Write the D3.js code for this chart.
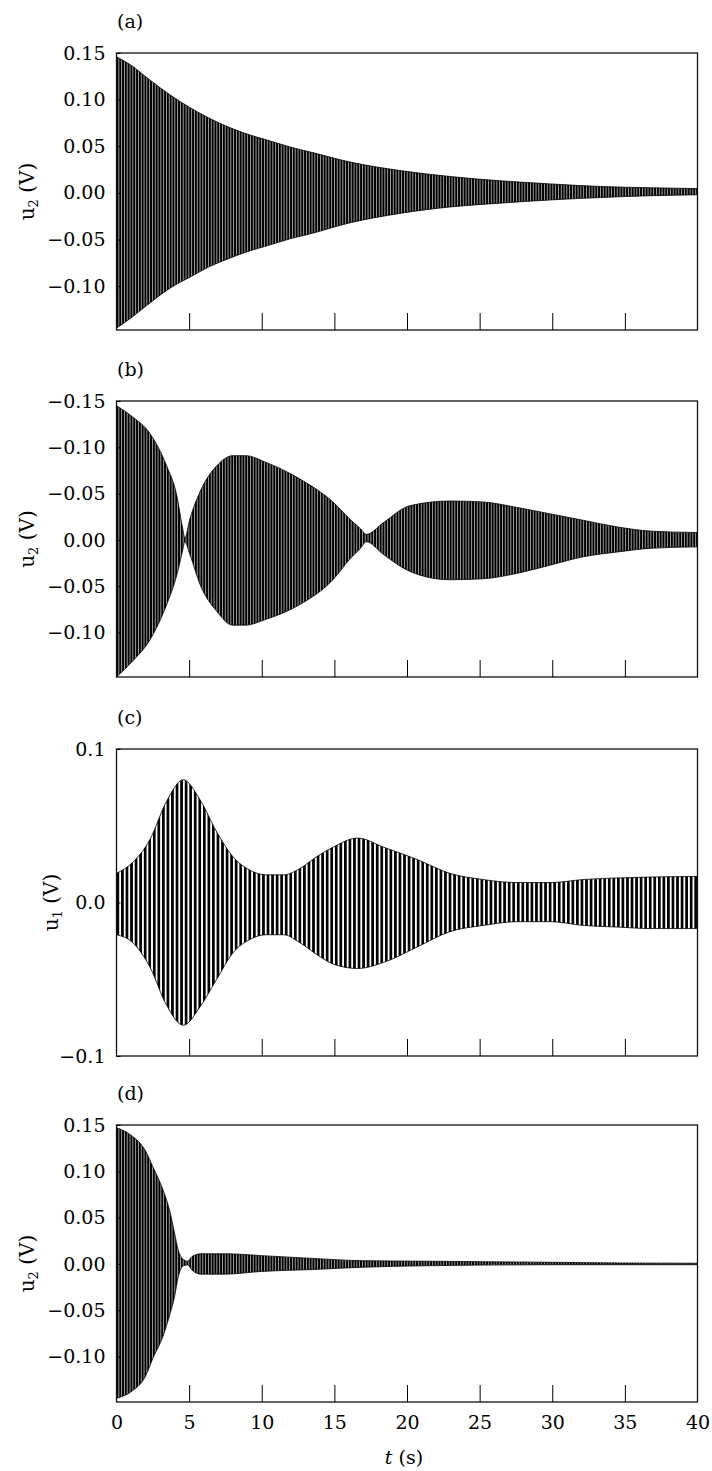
<!DOCTYPE html>
<html>
<head>
<meta charset="utf-8">
<script src="https://cdn.jsdelivr.net/npm/d3@7"></script>
<style>
  body { margin: 0; background: #fff; }
  svg { display: block; }
</style>
</head>
<body>
<div id="chart"></div>
<script>
// envelope of the response (upper / lower peak values), t in s
const tA = [0, 1, 2.3, 3.7, 5.1, 6.4, 7.8, 9.2, 10.2, 12, 13.3, 16.1, 19.5, 23, 26.4, 29.9, 33.3, 36.8, 40];
const upA = [0.146, 0.137, 0.121, 0.105, 0.091, 0.08, 0.07, 0.062, 0.0575, 0.049, 0.044, 0.033, 0.024, 0.0175, 0.013, 0.0096, 0.0069, 0.0055, 0.0046];
const loA = [-0.145, -0.134, -0.118, -0.102, -0.09, -0.079, -0.07, -0.062, -0.0575, -0.049, -0.044, -0.032, -0.022, -0.015, -0.011, -0.0075, -0.005, -0.003, -0.002];

const tB = [0, 1.1, 2.3, 3.45, 4.15, 4.56, 4.7, 5.06, 5.75, 6.9, 8.0, 8.9, 10.25, 12.6, 14.9, 16.1, 16.8, 17.2, 18.4, 20.2, 22.95, 25.2, 27.6, 29.9, 32.2, 34.5, 36.8, 40];
const upB = [0.145, 0.133, 0.115, 0.08, 0.048, 0.012, 0.002, 0.023, 0.052, 0.08, 0.091, 0.091, 0.084, 0.066, 0.041, 0.022, 0.012, 0.006, 0.019, 0.037, 0.042, 0.041, 0.035, 0.028, 0.021, 0.014, 0.0095, 0.008];
const loB = [-0.148, -0.131, -0.108, -0.07, -0.038, -0.011, -0.002, -0.016, -0.048, -0.077, -0.092, -0.092, -0.086, -0.07, -0.043, -0.02, -0.009, -0.002, -0.016, -0.034, -0.043, -0.042, -0.036, -0.027, -0.018, -0.013, -0.009, -0.0075];

const tC = [0, 1.1, 2.3, 3.45, 4.6, 5.75, 6.9, 8.0, 9.2, 10.3, 11.5, 12.6, 13.8, 14.9, 16.6, 18.4, 20.7, 22.95, 25.2, 27.6, 29.9, 32.2, 34.5, 36.8, 40];
const upC = [0.019, 0.026, 0.041, 0.066, 0.08, 0.067, 0.046, 0.03, 0.021, 0.018, 0.018, 0.022, 0.03, 0.036, 0.042, 0.036, 0.028, 0.019, 0.015, 0.013, 0.013, 0.015, 0.016, 0.0166, 0.017];
const loC = [-0.021, -0.026, -0.042, -0.067, -0.08, -0.068, -0.05, -0.033, -0.024, -0.021, -0.021, -0.026, -0.034, -0.04, -0.043, -0.039, -0.029, -0.019, -0.015, -0.0125, -0.0125, -0.015, -0.016, -0.017, -0.017];

const tD = [0, 1, 2, 2.5, 3.2, 3.7, 4, 4.25, 4.6, 4.9, 5.2, 5.8, 7.5, 10, 13.5, 17, 21, 25, 30, 35, 40];
const upD = [0.147, 0.139, 0.122, 0.105, 0.08, 0.055, 0.033, 0.015, 0.005, 0.003, 0.008, 0.011, 0.011, 0.009, 0.006, 0.0035, 0.003, 0.0025, 0.0018, 0.001, 0.0008];
const loD = [-0.145, -0.138, -0.121, -0.102, -0.078, -0.053, -0.035, -0.014, -0.002, -0.001, -0.0065, -0.011, -0.011, -0.008, -0.006, -0.0035, -0.002, -0.0012, -0.0008, -0.0008, -0.0008];

// axis ticks
const xTickVals = [0, 5, 10, 15, 20, 25, 30, 35, 40];
const xTickLabels = ["0", "5", "10", "15", "20", "25", "30", "35", "40"];
const xTickMarks = [5, 10, 15, 20, 25, 30, 35];
const yTicksU2 = [0.15, 0.1, 0.05, 0, -0.05, -0.1];
const yLabelsA = ["0.15", "0.10", "0.05", "0.00", "\u22120.05", "\u22120.10"];
const yLabelsB = ["\u22120.15", "\u22120.10", "\u22120.05", "0.00", "\u22120.05", "\u22120.10"];
const yTicksC = [0.1, 0, -0.1];
const yLabelsC = ["0.1", "0.0", "\u22120.1"];

const font = "'DejaVu Serif', serif";

let svg = d3.select("#chart").append("svg")
  .attr("width", 712)
  .attr("height", 1471);

let x = d3.scaleLinear().domain([0, 40]).range([116.5, 697.5]);

// vertical hatch used to suggest the dense oscillation
let defs = svg.append("defs");
function stripes(id, period, bar) {
  let p = defs.append("pattern")
    .attr("id", id)
    .attr("patternUnits", "userSpaceOnUse")
    .attr("x", x(0))
    .attr("width", period)
    .attr("height", 10);
  p.append("rect").attr("width", period).attr("height", 10).attr("fill", "#fff");
  p.append("rect").attr("width", bar).attr("height", 10).attr("fill", "#000");
}
stripes("dense", 2.8, 2.2);
stripes("wide", 4.55, 2.7);

let panels = [
  { t: tA, up: upA, lo: loA, top: 53, bottom: 330, dom: [-0.147, 0.15], ticks: yTicksU2, labels: yLabelsA, tag: "(a)", sub: "2", titleX: 34, fill: "dense" },
  { t: tB, up: upB, lo: loB, top: 401, bottom: 677, dom: [-0.148, 0.15], ticks: yTicksU2, labels: yLabelsB, tag: "(b)", sub: "2", titleX: 34, fill: "dense" },
  { t: tC, up: upC, lo: loC, top: 749, bottom: 1056, dom: [-0.1, 0.1], ticks: yTicksC, labels: yLabelsC, tag: "(c)", sub: "1", titleX: 58, fill: "wide" },
  { t: tD, up: upD, lo: loD, top: 1125, bottom: 1402, dom: [-0.149, 0.15], ticks: yTicksU2, labels: yLabelsA, tag: "(d)", sub: "2", titleX: 34, fill: "dense" }
];

panels.forEach((p, k) => {
  let y = d3.scaleLinear().domain(p.dom).range([p.bottom, p.top]);
  let g = svg.append("g");

  let rows = p.t.map((t, i) => ({ t: t, up: p.up[i], lo: p.lo[i] }));

  // signal band
  g.append("path")
    .datum(rows)
    .attr("d", d3.area()
      .x(d => x(d.t))
      .y0(d => y(d.lo))
      .y1(d => y(d.up))
      .curve(d3.curveMonotoneX))
    .attr("fill", "url(#" + p.fill + ")")
    .attr("stroke", "#000")
    .attr("stroke-width", 0.8);

  // frame
  g.append("rect")
    .attr("x", x(0))
    .attr("y", p.top)
    .attr("width", x(40) - x(0))
    .attr("height", p.bottom - p.top)
    .attr("fill", "none")
    .attr("stroke", "#111")
    .attr("stroke-width", 1.3);

  // inward bottom ticks
  let bt = g.append("g")
    .attr("transform", `translate(0,${p.bottom})`)
    .call(d3.axisBottom(x).tickValues(xTickMarks).tickSizeInner(-17).tickSizeOuter(0).tickFormat(""));
  bt.select(".domain").remove();

  // left axis
  let ya = g.append("g")
    .attr("transform", `translate(${x(0)},0)`)
    .call(d3.axisLeft(y).tickValues(p.ticks).tickSize(-4).tickPadding(11).tickFormat((d, i) => p.labels[i]));
  ya.select(".domain").remove();
  ya.attr("font-family", font).attr("font-size", 19);
  ya.selectAll("text").attr("fill", "#000");

  // panel tag
  g.append("text")
    .attr("x", x(0) + 0.5)
    .attr("y", p.top - 25)
    .attr("font-family", font)
    .attr("font-size", 19)
    .text(p.tag);

  // y title
  let yt = g.append("text")
    .attr("transform", `translate(${p.titleX},${(p.top + p.bottom) / 2}) rotate(-90)`)
    .attr("text-anchor", "middle")
    .attr("font-family", font)
    .attr("font-size", 20);
  yt.append("tspan").text("u");
  yt.append("tspan").attr("font-size", 13).attr("dy", 4).text(p.sub);
  yt.append("tspan").attr("dy", -4).text(" (V)");

  // x labels only on the last panel
  if (k === panels.length - 1) {
    let xa = g.append("g")
      .attr("transform", `translate(0,${p.bottom})`)
      .call(d3.axisBottom(x).tickValues(xTickVals).tickSize(0).tickPadding(14).tickFormat((d, i) => xTickLabels[i]));
    xa.select(".domain").remove();
    xa.attr("font-family", font).attr("font-size", 19);
    xa.selectAll("text").attr("fill", "#000");

    let xt = g.append("text")
      .attr("x", x(20) - 3)
      .attr("y", 1464)
      .attr("text-anchor", "middle")
      .attr("font-family", font)
      .attr("font-size", 19);
    xt.append("tspan").attr("font-style", "italic").text("t");
    xt.append("tspan").text(" (s)");
  }
});
</script>
</body>
</html>
